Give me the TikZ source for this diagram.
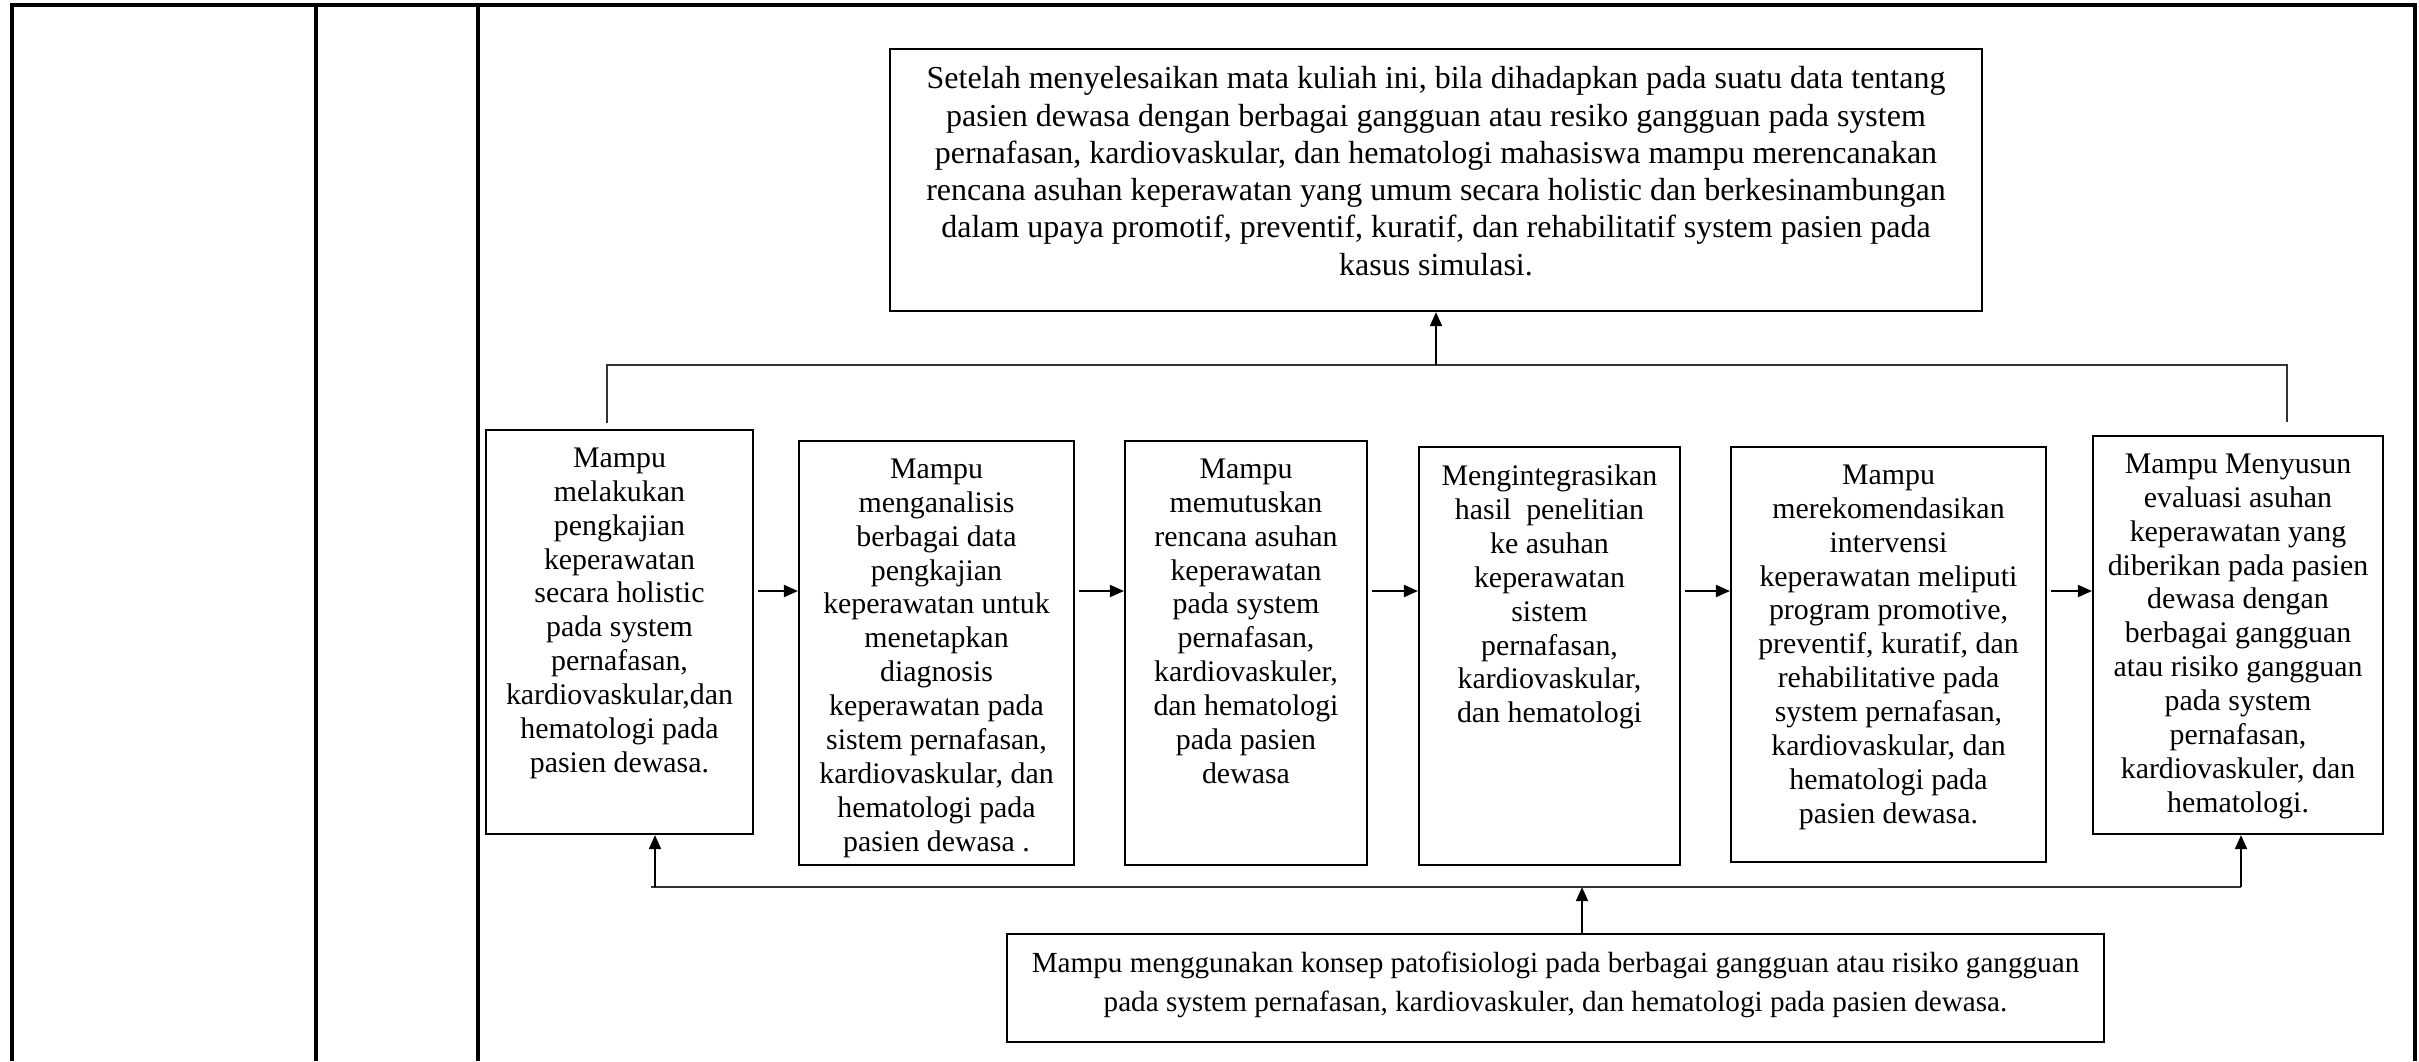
\documentclass[tikz,border=0pt]{standalone}
\usepackage{fontspec}
\setmainfont{Liberation Serif}
\usetikzlibrary{arrows.meta}

\begin{document}
\begin{tikzpicture}[
                    kotak/.style={draw, line width=0.6pt, anchor=north, inner sep=0pt},
                    isi/.style={anchor=north, align=center, inner sep=0pt, yshift=-0.18cm, font=\fontsize{8.5}{9.65}\selectfont},
                    panah/.style={line width=0.55pt, -{Triangle[length=0.14cm, width=0.12cm]}},
                    garis/.style={line width=0.5pt, draw=black!80},
                    bingkai/.style={line width=0.9pt}
                ]
                \useasboundingbox (0,0) rectangle (24.19,-10.61);

                % Bingkai tabel
                \draw[bingkai] (0.12,-10.61) -- (0.12,-0.05) -- (24.15,-0.05) -- (24.15,-10.61);
                \draw[bingkai] (3.16,-0.05) -- (3.16,-10.61);
                \draw[bingkai] (4.78,-0.05) -- (4.78,-10.61);

                % Kotak tujuan akhir
                \node[kotak, minimum width=10.92cm, minimum height=2.62cm,
                      label={[isi, font=\fontsize{9.1}{10.6}\selectfont]north:{Setelah menyelesaikan mata kuliah ini, bila dihadapkan pada suatu data tentang\\pasien dewasa dengan berbagai gangguan atau resiko gangguan pada system\\pernafasan, kardiovaskular, dan hematologi mahasiswa mampu merencanakan\\rencana asuhan keperawatan yang umum secara holistic dan berkesinambungan\\dalam upaya promotif, preventif, kuratif, dan rehabilitatif system pasien pada\\kasus simulasi.}}]
                      (tujuan) at (14.36,-0.48) {};

                % Deretan kemampuan
                \node[kotak, minimum width=2.67cm, minimum height=4.04cm,
                      label={[isi]north:{Mampu\\melakukan\\pengkajian\\keperawatan\\secara holistic\\pada system\\pernafasan,\\kardiovaskular,dan\\hematologi pada\\pasien dewasa.}}]
                      (b1) at (6.195,-4.29) {};
                \node[kotak, minimum width=2.75cm, minimum height=4.24cm,
                      label={[isi]north:{Mampu\\menganalisis\\berbagai data\\pengkajian\\keperawatan untuk\\menetapkan\\diagnosis\\keperawatan pada\\sistem pernafasan,\\kardiovaskular, dan\\hematologi pada\\pasien dewasa .}}]
                      (b2) at (9.365,-4.40) {};
                \node[kotak, minimum width=2.42cm, minimum height=4.24cm,
                      label={[isi]north:{Mampu\\memutuskan\\rencana asuhan\\keperawatan\\pada system\\pernafasan,\\kardiovaskuler,\\dan hematologi\\pada pasien\\dewasa}}]
                      (b3) at (12.46,-4.40) {};
                \node[kotak, minimum width=2.61cm, minimum height=4.18cm,
                      label={[isi]north:{Mengintegrasikan\\hasil\ \ penelitian\\ke asuhan\\keperawatan\\sistem\\pernafasan,\\kardiovaskular,\\dan hematologi}}]
                      (b4) at (15.495,-4.46) {};
                \node[kotak, minimum width=3.15cm, minimum height=4.15cm,
                      label={[isi]north:{Mampu\\merekomendasikan\\intervensi\\keperawatan meliputi\\program promotive,\\preventif, kuratif, dan\\rehabilitative pada\\system pernafasan,\\kardiovaskular, dan\\hematologi pada\\pasien dewasa.}}]
                      (b5) at (18.885,-4.46) {};
                \node[kotak, minimum width=2.90cm, minimum height=3.98cm,
                      label={[isi]north:{Mampu Menyusun\\evaluasi asuhan\\keperawatan yang\\diberikan pada pasien\\dewasa dengan\\berbagai gangguan\\atau risiko gangguan\\pada system\\pernafasan,\\kardiovaskuler, dan\\hematologi.}}]
                      (b6) at (22.38,-4.35) {};

                % Kotak konsep dasar
                \node[kotak, minimum width=10.97cm, minimum height=1.08cm,
                      label={[isi, font=\fontsize{8.3}{11.1}\selectfont]north:{Mampu menggunakan konsep patofisiologi pada berbagai gangguan atau risiko gangguan\\pada system pernafasan, kardiovaskuler, dan hematologi pada pasien dewasa.}}]
                      (konsep) at (15.555,-9.33) {};

                % Garis penghubung
                \coordinate (cabang) at ([yshift=-0.53cm]tujuan.south);
                \draw[garis] ([xshift=-0.125cm,yshift=0.06cm]b1.north) |- (cabang) -| ([xshift=0.49cm,yshift=0.13cm]b6.north);
                \draw[panah] (cabang) -- (tujuan.south);

                \coordinate (tengah) at (0,-5.91);
                \foreach \a/\b in {b1/b2, b2/b3, b3/b4, b4/b5, b5/b6}
                    \draw[panah] ([xshift=0.04cm]\a.east |- tengah) -- (\b.west |- tengah);

                \coordinate (bawahKiri) at ([xshift=0.355cm,yshift=-0.52cm]b1.south);
                \coordinate (bawahKanan) at ([xshift=0.03cm]b6.south |- bawahKiri);
                \draw[garis] ([xshift=-0.04cm]bawahKiri) -- (bawahKanan);
                \draw[panah] (bawahKiri) -- (bawahKiri |- b1.south);
                \draw[panah] (bawahKanan) -- (bawahKanan |- b6.south);
                \draw[panah] ([xshift=0.265cm]konsep.north) -- ([xshift=0.265cm]konsep.north |- bawahKiri);

                \end{tikzpicture}
\end{document}
